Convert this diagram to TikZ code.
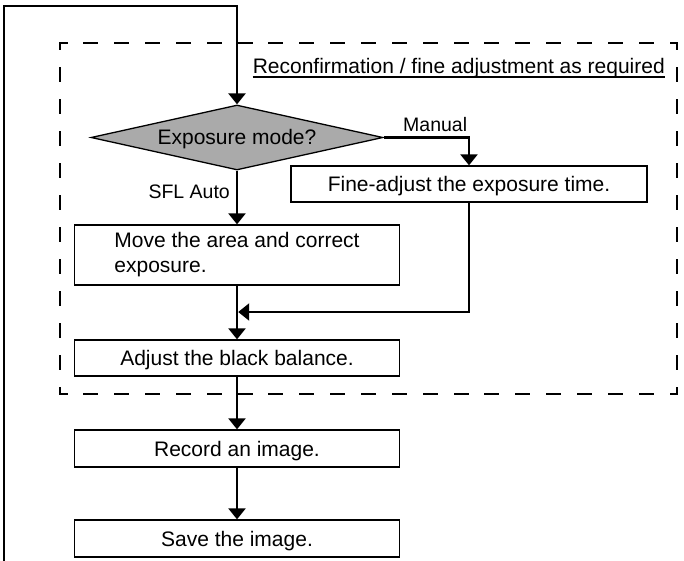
\documentclass[tikz,border=0pt]{standalone}
\usepackage{fontspec}
\setmainfont{Liberation Sans}
\usetikzlibrary{shapes.geometric,arrows.meta}
\definecolor{dgray}{RGB}{170,170,170}
\begin{document}
\begin{tikzpicture}[x=1pt,y=-1pt,
  every node/.style={font=\fontsize{21}{25}\selectfont},
  lbl/.style={inner sep=0pt,font=\fontsize{19.5}{23}\selectfont},
  box/.style={draw,line width=1.3pt,rectangle,inner sep=0pt,text height=15pt,text depth=0pt},
  flow/.style={line width=2.3pt,-{Triangle[width=17pt,length=11pt]}},
  dsh/.style={line width=2.5pt,line cap=rect,dash phase=6.25pt},
  dshh/.style={dsh,dash pattern=on 12.5pt off 18.35pt},
  dshv/.style={dsh,dash pattern=on 12.5pt off 19.41pt}]
\useasboundingbox (0,0) rectangle (684,561);

% dashed frame
\coordinate (dtl) at (60,43);
\coordinate (dtr) at (677,43);
\coordinate (dbl) at (60,394);
\coordinate (dbr) at (677,394);
\draw[dshh] (dtl) -- (dtr);
\draw[dshh] (dbl) -- (dbr);
\draw[dshv] (dtl) -- (dbl);
\draw[dshv] (dtr) -- (dbr);

% nodes
\node[diamond, draw, fill=dgray, line width=1.3pt, inner sep=0pt, aspect=4.5,
      minimum width=292pt, minimum height=65pt, text height=15pt, text depth=0pt]
      (mode) at (237,137.5) {Exposure mode?};
\node[box, minimum width=356pt, minimum height=36pt] (fine) at (469,184) {Fine-adjust the exposure time.};
\node[draw, line width=1.3pt, rectangle, inner sep=0pt, minimum width=325pt, minimum height=60pt, align=left]
      (move) at (237,255) {Move the area and correct\\exposure.};
\node[box, minimum width=325pt, minimum height=36pt] (black) at (237,358) {Adjust the black balance.};
\node[box, minimum width=325pt, minimum height=37pt] (rec) at (237,448.5) {Record an image.};
\node[box, minimum width=325pt, minimum height=37pt] (save) at (237,538.5) {Save the image.};

% labels
\node[lbl, anchor=base west] (lman) at (403,132) {Manual};
\node[lbl, anchor=base east] (lsfl) at (230,199) {SFL Auto};
\node[anchor=base east, inner sep=0pt] (hdr) at (665,74) {Reconfirmation / fine adjustment as required};
\draw[line width=1.2pt] ([yshift=-3pt]hdr.base west) -- ([yshift=-3pt]hdr.base east);

% connectors
\coordinate (loopstart) at (4,561);
\coordinate (looptop) at (4,6);
\draw[flow, line width=2.5pt] (loopstart) -- (looptop) -| (mode.north);
\draw[flow] (mode.east) -| (fine.north);
\draw[flow] (mode.south) -- (move.north);
\coordinate (mj) at (238.2,312);
\draw[flow] (fine.south) |- (mj);
\draw[flow] (move.south) -- (black.north);
\draw[flow] (black.south) -- (rec.north);
\draw[flow] (rec.south) -- (save.north);
\end{tikzpicture}
\end{document}
